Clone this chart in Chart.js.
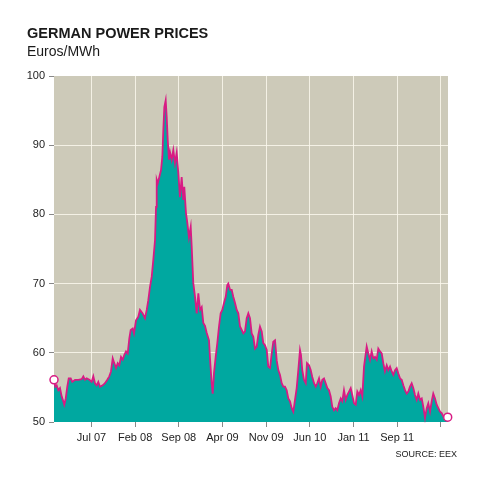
<!DOCTYPE html>
<html>
<head>
<meta charset="utf-8">
<title>German power prices</title>
<script src="https://cdn.jsdelivr.net/npm/chart.js@4.4.1/dist/chart.umd.min.js"></script>
<style>
  html, body { margin: 0; padding: 0; background: #fff; }
  #wrap { position: relative; width: 480px; height: 480px; font-family: 'Liberation Sans', Arial, sans-serif; color: #1a1a1a; }
  #wrap canvas { position: absolute; left: 0; top: 0; }
  .title { position: absolute; left: 27px; top: 26px; font-size: 14.5px; line-height: 1; font-weight: bold; }
  .sub { position: absolute; left: 27px; top: 44px; font-size: 14px; line-height: 1; }
  .source { position: absolute; right: 23px; top: 450px; font-size: 9px; line-height: 1; }
</style>
</head>
<body>
<div id="wrap">
  <canvas id="priceChart" width="480" height="480"></canvas>
  <div class="title">GERMAN POWER PRICES</div>
  <div class="sub">Euros/MWh</div>
  <div class="source">SOURCE: EEX</div>
</div>
<script>
// Data: months since Jan 2007
const months = [
  0, 0.21, 0.43, 0.69, 0.96, 1.23, 1.49, 1.65, 1.88, 2.13, 2.36, 2.68, 2.93, 3.37, 3.89, 4.44, 4.70, 4.97, 5.24, 5.66,
  6.04, 6.30, 6.57, 6.84, 7.10, 7.37, 7.80, 8.17, 8.54, 8.86, 9.13, 9.41, 9.66, 9.94, 10.21, 10.46, 10.74, 11.01, 11.27, 11.54,
  11.81, 12.07, 12.29, 12.61, 12.82, 13.14, 13.51, 13.78, 14.21, 14.58, 14.86, 15.11, 15.38, 15.66, 15.91, 16.19, 16.35, 16.46, 16.62, 16.88,
  17.15, 17.36, 17.52, 17.68, 17.90, 18.06, 18.22, 18.43, 18.59, 18.86, 19.12, 19.39, 19.66, 19.92, 20.19, 20.46, 20.72, 20.88, 21.15, 21.36,
  21.63, 21.91, 22.07, 22.32, 22.60, 22.87, 23.13, 23.40, 23.67, 23.93, 24.20, 24.47, 24.84, 25.05, 25.27, 25.43, 25.64, 25.91, 26.17, 26.44,
  26.71, 26.97, 27.24, 27.52, 27.77, 27.93, 28.21, 28.48, 28.73, 29.01, 29.28, 29.54, 29.81, 30.08, 30.34, 30.61, 30.88, 31.14, 31.41, 31.68,
  31.94, 32.21, 32.48, 32.74, 33.01, 33.29, 33.54, 33.81, 34.09, 34.34, 34.62, 34.89, 35.14, 35.42, 35.69, 35.95, 36.22, 36.49, 36.75, 37.02,
  37.29, 37.55, 37.82, 38.09, 38.35, 38.62, 38.89, 39.15, 39.42, 39.58, 39.79, 40.06, 40.34, 40.54, 40.87, 41.14, 41.39, 41.67, 41.94, 42.19,
  42.47, 42.74, 43.00, 43.27, 43.54, 43.80, 44.07, 44.34, 44.60, 44.87, 45.14, 45.40, 45.67, 45.95, 46.20, 46.47, 46.75, 47.00, 47.28, 47.55,
  47.80, 48.08, 48.35, 48.61, 48.88, 49.15, 49.41, 49.68, 50.11, 50.37, 50.64, 50.91, 51.17, 51.44, 51.71, 51.97, 52.24, 52.52, 52.77, 53.04,
  53.32, 53.57, 53.85, 54.12, 54.38, 54.65, 54.92, 55.18, 55.45, 55.72, 55.98, 56.25, 56.52, 56.78, 57.05, 57.32, 57.58, 57.85, 58.12, 58.38,
  58.65, 58.93, 59.18, 59.46, 59.73, 59.98, 60.26, 60.53, 60.78, 61.06, 61.33, 61.59, 61.86, 62.13, 62.39, 63.09
];
// Euros/MWh
const prices = [
  56.1, 55.1, 55.3, 54.6, 54.9, 53.7, 53.0, 52.5, 53.4, 55.1, 56.3, 56.3, 55.8, 56.1, 56.1, 56.2, 56.6, 56.1, 56.3, 56.1,
  55.8, 56.6, 55.6, 55.3, 55.8, 55.1, 55.3, 55.6, 56.1, 56.6, 57.3, 59.2, 58.5, 57.8, 58.5, 58.2, 59.4, 59.0, 59.7, 60.2,
  59.9, 62.1, 63.3, 63.5, 62.8, 64.7, 65.2, 66.2, 65.7, 65.0, 66.2, 67.6, 69.5, 71.0, 73.4, 76.3, 81.1, 85.0, 84.5, 85.4,
  86.4, 88.3, 92.2, 95.5, 96.5, 94.1, 90.8, 87.9, 89.0, 87.9, 89.3, 87.4, 88.9, 86.0, 82.5, 85.4, 82.1, 84.0, 80.2, 78.8,
  76.7, 78.2, 75.3, 70.1, 68.1, 65.7, 68.6, 66.2, 66.6, 64.3, 63.9, 62.9, 61.8, 58.5, 55.6, 54.1, 57.1, 59.4, 61.4, 63.8,
  65.7, 66.2, 67.2, 68.1, 69.8, 70.0, 69.1, 69.1, 68.1, 67.2, 66.2, 65.7, 63.8, 63.3, 62.8, 63.1, 65.0, 65.7, 65.0, 62.8,
  62.3, 60.6, 60.9, 62.6, 63.8, 63.1, 61.4, 61.1, 60.4, 58.0, 57.8, 59.9, 61.6, 61.8, 58.9, 57.5, 56.8, 55.6, 55.1, 55.1,
  54.6, 53.4, 53.0, 52.0, 51.5, 53.2, 54.9, 57.5, 60.4, 59.7, 57.5, 56.1, 55.6, 58.5, 58.2, 57.5, 56.5, 55.6, 55.1, 55.6,
  56.3, 55.1, 56.1, 56.3, 55.6, 54.9, 54.6, 53.7, 52.2, 51.7, 52.0, 51.7, 52.7, 53.4, 53.0, 54.6, 53.2, 53.9, 54.4, 54.9,
  53.9, 52.7, 52.5, 54.4, 53.9, 54.6, 53.7, 58.0, 60.9, 59.9, 59.0, 60.2, 59.2, 59.4, 59.0, 60.6, 60.2, 59.9, 58.5, 57.3,
  58.2, 57.5, 58.0, 57.3, 56.8, 57.5, 57.8, 57.0, 56.3, 56.1, 55.3, 54.6, 54.1, 54.4, 55.1, 55.6, 54.9, 53.9, 53.2, 54.1,
  53.2, 53.4, 52.2, 50.6, 52.0, 52.7, 51.5, 53.0, 54.1, 53.4, 52.5, 52.0, 51.5, 51.3, 50.8, 50.7
];
const tickMonths = [6, 13, 20, 27, 34, 41, 48, 55, 62];
const tickLabels = ['Jul 07', 'Feb 08', 'Sep 08', 'Apr 09', 'Nov 09', 'Jun 10', 'Jan 11', 'Sep 11', ''];

const BEIGE = '#cdcab9';
const TEAL = '#00a8a0';
const MAGENTA = '#d81b84';
const GRID = 'rgba(250,248,236,0.85)';
const TICK = '#888888';

Chart.defaults.font.family = "'Liberation Sans', Arial, sans-serif";
Chart.defaults.font.size = 11;
Chart.defaults.color = '#222222';

// plot background
const plotBg = {
  id: 'plotBg',
  beforeDraw(chart) {
    const a = chart.chartArea;
    const c = chart.ctx;
    c.save();
    c.fillStyle = BEIGE;
    c.fillRect(a.left, a.top, a.right - a.left, a.bottom - a.top);
    c.restore();
  }
};

const last = prices.length - 1;

new Chart(document.getElementById('priceChart'), {
  type: 'line',
  data: {
    datasets: [{
      data: months.map((m, i) => ({ x: m, y: prices[i] })),
      borderColor: MAGENTA,
      borderWidth: 1.8,
      backgroundColor: TEAL,
      fill: 'start',
      tension: 0,
      clip: false,
      pointRadius: (ctx) => (ctx.dataIndex === 0 || ctx.dataIndex === last) ? 4 : 0,
      pointBackgroundColor: '#ffffff',
      pointBorderColor: MAGENTA,
      pointBorderWidth: 1.5
    }]
  },
  options: {
    responsive: false,
    devicePixelRatio: 1,
    animation: false,
    layout: { padding: { top: 76, right: 32, left: 0, bottom: 0 } },
    plugins: { legend: { display: false }, tooltip: { enabled: false } },
    scales: {
      x: {
        type: 'linear',
        min: 0,
        max: 63.14,
        z: 1,
        afterFit: (s) => { s.height = 58; },
        afterBuildTicks: (s) => { s.ticks = tickMonths.map(v => ({ value: v })); },
        border: { display: false },
        grid: { color: GRID, tickColor: TICK, tickLength: 5, lineWidth: 1 },
        ticks: {
          autoSkip: false,
          maxRotation: 0,
          padding: 4,
          callback: (v, i) => tickLabels[i]
        }
      },
      y: {
        min: 50,
        max: 100,
        z: 1,
        afterFit: (s) => { s.width = 54; },
        border: { display: false },
        grid: {
          color: (ctx) => (ctx.tick && (ctx.tick.value === 50 || ctx.tick.value === 100)) ? 'rgba(0,0,0,0)' : GRID,
          tickColor: TICK,
          tickLength: 5,
          lineWidth: 1
        },
        ticks: { stepSize: 10, padding: 4 }
      }
    }
  },
  plugins: [plotBg]
});
</script>
</body>
</html>
